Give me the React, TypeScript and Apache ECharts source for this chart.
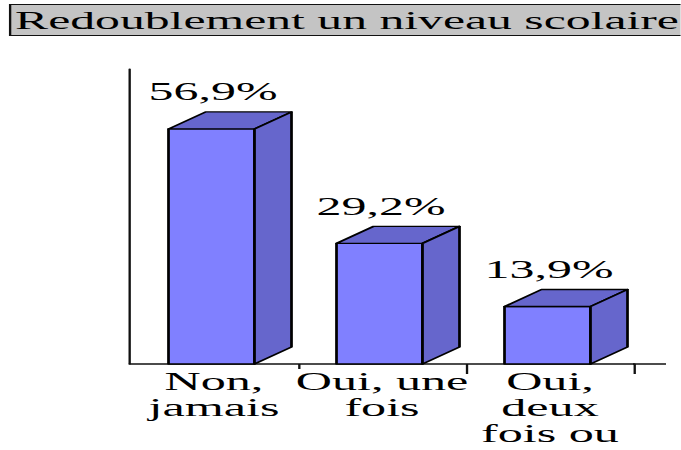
import React, { useEffect, useRef } from "react";
import * as echarts from "echarts";

const categories = ["Non,\njamais", "Oui, une\nfois", "Oui,\ndeux\nfois ou"];
const values = [56.9, 29.2, 13.9];
const titleText = "Redoublement un niveau scolaire";

const SX = 1.95; // the whole reference is stretched horizontally
const W = 681;
const H = 450;
const px = (x: number) => x / SX;

export default function App() {
  const ref = useRef<HTMLDivElement>(null);
  useEffect(() => {
    const chart = echarts.init(ref.current!, undefined, { renderer: "svg", width: W / SX, height: H });
    const FONT = "'Liberation Serif', serif";
    chart.setOption({
      animation: false,
      backgroundColor: "#fff",
      title: {
        text: titleText,
        left: px(10.5),
        top: 5,
        padding: [3, 2.4, 2.5, 2.3],
        backgroundColor: "#C4C4C4",
        borderColor: "#111",
        borderWidth: 1.2,
        textStyle: { fontFamily: FONT, fontSize: 25.5, fontWeight: "normal", color: "#000", lineHeight: 25 },
      },
      grid: { left: px(130), top: 69, width: px(504), height: 295, containLabel: false },
      xAxis: {
        type: "category",
        data: categories,
        axisLine: { show: true, lineStyle: { color: "#111", width: 1.6 } },
        axisTick: { show: true, length: 10, lineStyle: { color: "#111", width: 1.2 }, interval: (i: number) => i > 0 },
        axisLabel: {
          show: true,
          interval: 0,
          hideOverlap: false,
          fontFamily: FONT,
          fontSize: 25.7,
          lineHeight: 26,
          color: "#000",
          margin: 5,
        },
      },
      yAxis: {
        type: "value",
        min: 0,
        max: 71.4,
        splitLine: { show: false },
        axisTick: { show: false },
        axisLabel: { show: false },
        axisLine: { show: true, lineStyle: { color: "#111", width: 1.2 } },
      },
      graphic: [
        { type: "line", shape: { x1: px(633), y1: 364, x2: px(666), y2: 364 }, style: { stroke: "#111", lineWidth: 1.6 } },
        { type: "rect", shape: { x: px(295), y: 369, width: px(6), height: 6 }, style: { fill: "#fff" }, z: 10 },
      ],
      series: [
        {
          type: "custom",
          data: values.map((v, i) => [i, v]),
          encode: { x: 0, y: 1 },
          clip: false,
          renderItem: (_: any, api: any) => {
            const idx = api.value(0);
            const v = api.value(1);
            const top = api.coord([idx, v]);
            const base = api.coord([idx, 0]);
            const band = api.size([1, 0])[0];
            const l = top[0] - band * (45.5 / 168);
            const r = l + band * (86 / 168);
            const dx = band * (37 / 168);
            const dy = 17;
            const line = { stroke: "#000", lineWidth: 1.4, lineJoin: "round" };
            return {
              type: "group",
              children: [
                { type: "polygon", shape: { points: [[l, top[1]], [r, top[1]], [r, base[1]], [l, base[1]]] }, style: { fill: "#8080FF", ...line } },
                { type: "polygon", shape: { points: [[l, top[1]], [l + dx, top[1] - dy], [r + dx, top[1] - dy], [r, top[1]]] }, style: { fill: "#6666CC", ...line } },
                { type: "polygon", shape: { points: [[r, top[1]], [r + dx, top[1] - dy], [r + dx, base[1] - dy], [r, base[1]]] }, style: { fill: "#6666CC", ...line } },
                {
                  type: "text",
                  x: top[0] - band * (1 / 168),
                  y: top[1] - dy - 7,
                  style: {
                    text: String(v).replace(".", ",") + "%",
                    font: `25.6px ${FONT}`,
                    fill: "#000",
                    textAlign: "center",
                    textVerticalAlign: "bottom",
                  },
                },
              ],
            };
          },
        },
      ],
    });
    return () => chart.dispose();
  }, []);
  return (
    <div
      ref={ref}
      style={{
        position: "fixed",
        left: 0,
        top: 0,
        width: W / SX,
        height: H,
        transform: `scaleX(${SX})`,
        transformOrigin: "0 0",
      }}
    />
  );
}
